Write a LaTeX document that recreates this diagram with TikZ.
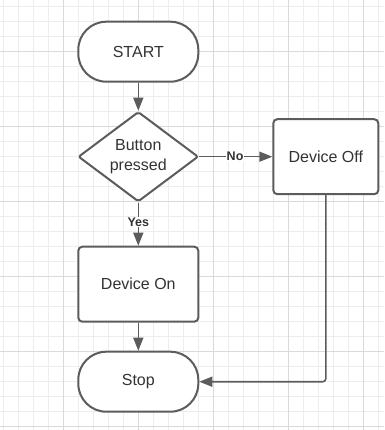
\documentclass[tikz,border=0pt]{standalone}
\usepackage{fontspec}
\setmainfont{Liberation Sans}
\usetikzlibrary{shapes.geometric,arrows.meta}
\definecolor{edgegray}{HTML}{5C5C5C}
\definecolor{textgray}{HTML}{333333}
\definecolor{gridminor}{HTML}{EDEDED}
\definecolor{gridmajor}{HTML}{DADADA}
\begin{document}
\begin{tikzpicture}[x=1pt,y=-1pt,
  gridline/.style={draw=gridminor,line width=0.8pt},
  gridbold/.style={draw=gridmajor,line width=1pt},
  base/.style={draw=edgegray,line width=2pt,fill=white,text=textgray,
    font=\fontsize{16}{20}\selectfont,align=center},
  terminal/.style={base,rectangle,rounded corners=28pt,
    minimum width=120pt,minimum height=60pt},
  process/.style={base,rectangle,rounded corners=4pt},
  decision/.style={base,diamond,aspect=1.33,inner sep=0pt,rounded corners=2pt,
    minimum width=120pt,minimum height=90pt},
  link/.style={draw=edgegray,line width=1.6pt,
    -{Triangle[length=13pt,width=10pt]}},
  tag/.style={fill=white,inner sep=1pt,text=textgray,
    font=\fontsize{12.5}{14}\selectfont\bfseries}]
\useasboundingbox (0,0) rectangle (384,430);
\fill[white] (0,0) rectangle (384,430);
% background grid: fine lines every 15pt, bold lines every 75pt
\foreach \k in {0,...,25} \draw[gridline] ({3.3+15*\k},0) -- ({3.3+15*\k},430);
\foreach \k in {0,...,28} \draw[gridline] (0,{6.7+15*\k}) -- (384,{6.7+15*\k});
\foreach \k in {0,...,4} \draw[gridbold] ({63.3+75*\k},0) -- ({63.3+75*\k},430);
\foreach \k in {0,...,5} \draw[gridbold] (0,{51.7+75*\k}) -- (384,{51.7+75*\k});

% flowchart nodes
\node[terminal] (start) at (138.3,51.7) {START};
\node[decision] (press) at (138.3,156.7) {Button\\pressed};
\node[process,minimum width=105pt,minimum height=75pt] (off) at (325.8,156.7) {Device Off};
\node[process,minimum width=120pt,minimum height=75pt] (on) at (138.3,284.2) {Device On};
\node[terminal] (stop) at (138.3,381.7) {Stop};

% connectors
\draw[link] (start) -- (press);
\draw[link] (press.east) -- node[tag,pos=0.49] {No} (off.west);
\draw[link] (press.south) -- node[tag,pos=0.45] {Yes} (on.north);
\draw[link] (on) -- (stop);
\draw[link,rounded corners=3pt] (off.south) |- (stop.east);
\end{tikzpicture}
\end{document}
